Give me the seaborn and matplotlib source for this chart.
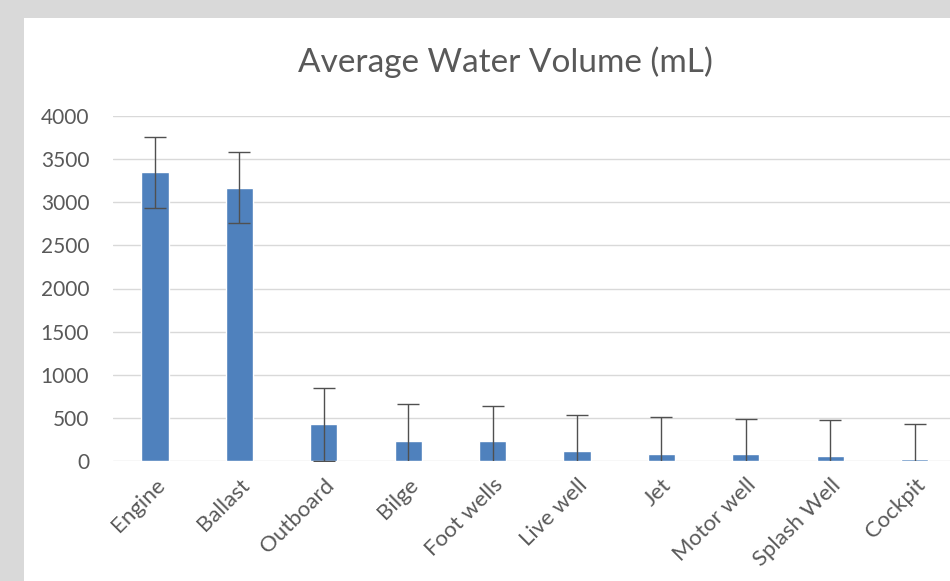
import matplotlib
matplotlib.use("Agg")
import matplotlib.pyplot as plt
from matplotlib.patches import Rectangle
import seaborn as sns
import pandas as pd

# values
areas = ["Engine", "Ballast", "Outboard", "Bilge", "Foot wells",
         "Live well", "Jet", "Motor well", "Splash Well", "Cockpit"]
avg_ml = [3345, 3170, 425, 232, 232, 116, 81, 81, 54, 20]
err_ml = [415, 415, 420, 425, 410, 420, 425, 410, 420, 410]
y_ticks = [0, 500, 1000, 1500, 2000, 2500, 3000, 3500, 4000]

sns.set_theme(style="white")
plt.rcParams["font.family"] = ["Lato", "DejaVu Sans"]

df = pd.DataFrame({"area": areas, "ml": avg_ml, "err": err_ml})

W, H = 950, 581
fig = plt.figure(figsize=(W / 100, H / 100), dpi=100, facecolor="#d9d9d9")
# white chart panel on the grey background
fig.patches.append(Rectangle((24 / W, 0), 1, (H - 18) / H, transform=fig.transFigure,
                             facecolor="white", edgecolor="none", zorder=-1))

ax = fig.add_axes([112.8 / W, (H - 461) / H, 844 / W, 345 / H])
ax.set_zorder(2)
ax.set_facecolor("none")

sns.barplot(data=df, x="area", y="ml", order=areas, color="#4f81bd",
            saturation=1, width=0.32, errorbar=None, ax=ax, zorder=2)
ax.errorbar(range(len(areas)), df["ml"], yerr=df["err"], fmt="none",
            ecolor="#505050", elinewidth=1, capsize=8, capthick=1, zorder=3)

ax.set_ylim(0, 4000)
ax.set_xlim(-0.5, len(areas) - 0.5)
ax.set_yticks(y_ticks)
ax.yaxis.grid(True, color="#d9d9d9", lw=1)
ax.set_axisbelow(True)
for s in ax.spines.values():
    s.set_visible(False)

ax.set_xlabel("")
ax.set_ylabel("")
ax.tick_params(axis="both", length=0, labelcolor="#595959")
ax.tick_params(axis="y", pad=17, labelsize=15)
ax.tick_params(axis="x", pad=10, labelsize=16)
for lab in ax.get_xticklabels():
    lab.set_rotation(45)
    lab.set_ha("right")
    lab.set_rotation_mode("anchor")

fig.text(505 / W, 1 - 62 / H, "Average Water Volume (mL)", ha="center", va="center",
         fontsize=24, color="#595959", zorder=3)

fig.savefig("out.png", dpi=100, facecolor=fig.get_facecolor())
